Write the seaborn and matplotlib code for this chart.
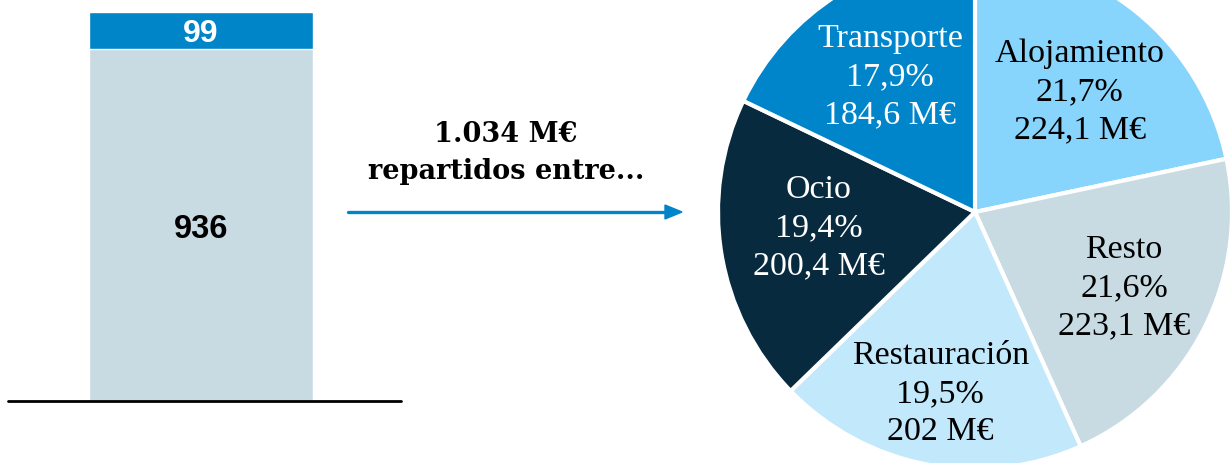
import numpy as np
import pandas as pd
import matplotlib; matplotlib.use("Agg")
import matplotlib.pyplot as plt
import seaborn as sns

# ── Datos ────────────────────────────────────────────────────────────────
bar_parts   = ["Resto", "Extra"]
bar_values  = [936, 99]
total_label = "1.034 M€\nrepartidos entre..."

categorias  = ["Alojamiento", "Resto", "Restauración", "Ocio", "Transporte"]
porcentajes = [21.7, 21.6, 19.5, 19.4, 17.9]
importes    = ["224,1 M€", "223,1 M€", "202 M€", "200,4 M€", "184,6 M€"]

# ── Estilo ───────────────────────────────────────────────────────────────
sns.set_theme(style="white")
plt.rcParams["font.family"] = ["Liberation Serif", "DejaVu Serif"]
plt.rcParams["text.color"] = "black"

AZUL      = "#0085C8"
GRIS_AZUL = "#C8DBE3"
pie_cols  = ["#87D4FD", "#C8DBE3", "#C2E8FB", "#082A3F", "#0085CA"]
txt_cols  = ["black", "black", "black", "white", "white"]
lbl_dist  = [0.62, 0.65, 0.72, 0.61, 0.62]
lbl_rot   = [-2, 0, 0, -3.5, 0]   # pequeño ajuste angular de etiquetas

W, H = 1231, 463
fig = plt.figure(figsize=(W / 100, H / 100), dpi=100)

def px_axes(x0, y0, x1, y1):
    """Crear ejes a partir de coordenadas en pixeles (origen arriba-izquierda)."""
    return fig.add_axes([x0 / W, (H - y1) / H, (x1 - x0) / W, (y1 - y0) / H])

# ── Barra apilada ────────────────────────────────────────────────────────
ax_bar = px_axes(8, 12, 401, 401)
total = sum(bar_values)
df_tot = pd.DataFrame({"x": ["total"], "v": [total]})
df_bas = pd.DataFrame({"x": ["total"], "v": [bar_values[0]]})
sns.barplot(data=df_tot, x="x", y="v", color=AZUL, saturation=1, width=0.57,
            ax=ax_bar)
sns.barplot(data=df_bas, x="x", y="v", color=GRIS_AZUL, saturation=1, width=0.57,
            ax=ax_bar)
ax_bar.set_ylim(0, total)
ax_bar.set_xlim(-0.49, 0.51)
ax_bar.set_axis_off()
ax_bar.axhline(0, color="black", lw=2, clip_on=False)
ax_bar.text(0, bar_values[0] + bar_values[1] / 2 - 8, str(bar_values[1]),
            ha="center", va="center", color="white", fontsize=23,
            fontweight="bold", family="Liberation Sans")
ax_bar.text(0, bar_values[0] * 0.5 - 12, str(bar_values[0]),
            ha="center", va="center", color="black", fontsize=23.5,
            fontweight="bold", family="Liberation Sans")

# ── Texto central + flecha ───────────────────────────────────────────────
fig.text(506 / W, 1 - 153 / H, total_label, ha="center", va="center",
         fontsize=19.5, fontweight="bold", family="DejaVu Serif",
         color="black", linespacing=1.5)
fig.add_artist(plt.Line2D([348 / W, 668 / W], [1 - 212 / H] * 2,
                          color=AZUL, lw=2.4))
fig.patches.append(plt.Polygon(
    [[665 / W, 1 - 205 / H], [682 / W, 1 - 212 / H], [665 / W, 1 - 219 / H]],
    closed=True, color=AZUL, transform=fig.transFigure, figure=fig))

# ── Tarta ────────────────────────────────────────────────────────────────
cx, cy, r = 975, 212, 257
ax_pie = px_axes(cx - r, cy - r, cx + r, cy + r)
wedges, _ = ax_pie.pie(porcentajes, colors=pie_cols, startangle=90,
                       counterclock=False, radius=1,
                       wedgeprops=dict(edgecolor="white", linewidth=3))
for w, cat, p, imp, c, d, rot in zip(wedges, categorias, porcentajes, importes,
                                     txt_cols, lbl_dist, lbl_rot):
    ang = np.deg2rad((w.theta1 + w.theta2) / 2 + rot)
    ax_pie.text(d * np.cos(ang), d * np.sin(ang),
                f"{cat}\n{p:.1f}%".replace(".", ",") + f"\n{imp}",
                ha="center", va="center", color=c, fontsize=24.5,
                linespacing=1.33)
ax_pie.set_xlim(-1, 1)
ax_pie.set_ylim(-1, 1)
ax_pie.set_aspect("equal")
ax_pie.set_axis_off()

fig.savefig("out.png", dpi=100)
